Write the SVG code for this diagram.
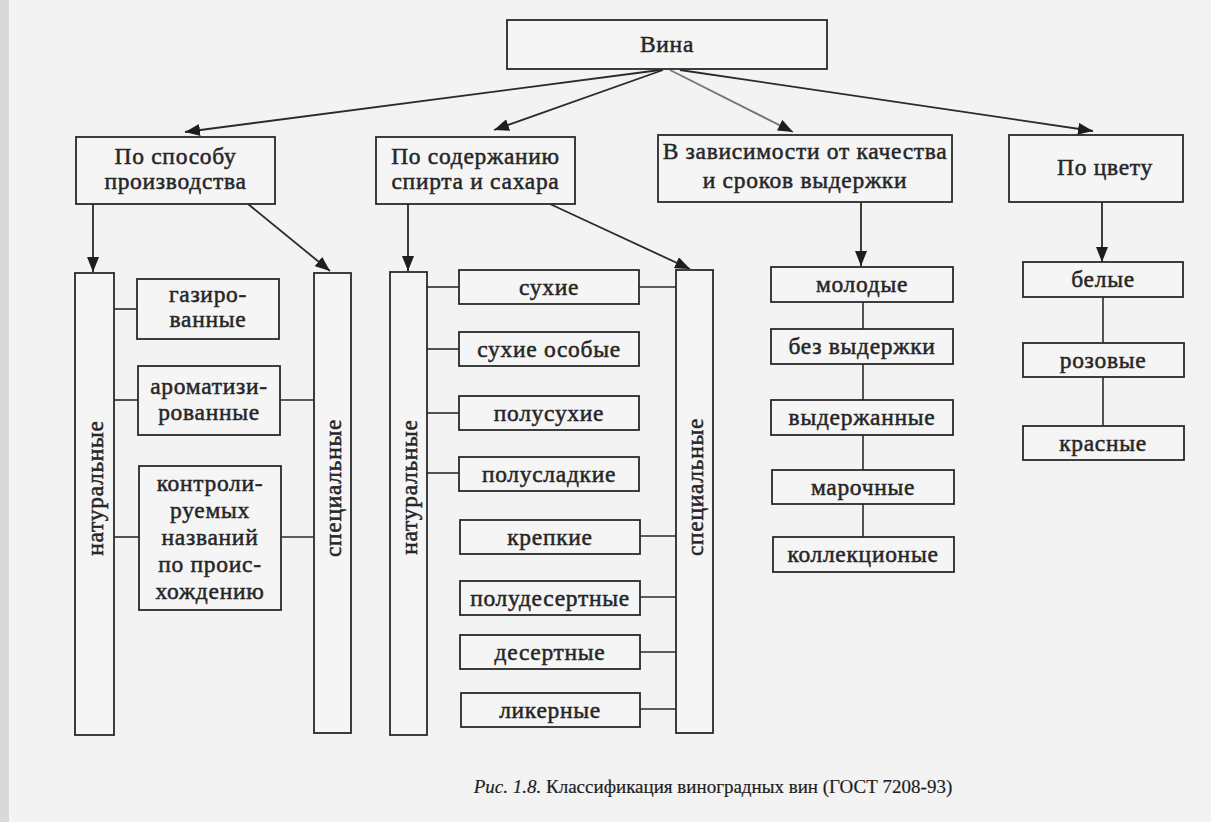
<svg xmlns="http://www.w3.org/2000/svg" width="1211" height="822" viewBox="0 0 1211 822">
<style>
.bg{fill:#f3f3f3}
.box{fill:#f5f5f5;stroke:#2a2a2a;stroke-width:1.8}
.ln{fill:none;stroke:#2a2a2a;stroke-width:1.6}
.arr{fill:none;stroke:#2a2a2a;stroke-width:1.8;marker-end:url(#ah)}
.arrg{fill:none;stroke:#777;stroke-width:1.8;marker-end:url(#ah)}
.t{font-family:'Liberation Serif','Times New Roman',serif;font-size:23.5px;letter-spacing:0.7px;fill:#262626;stroke:#262626;stroke-width:0.5;text-anchor:middle}
.cap{font-size:19px;letter-spacing:0;fill:#1e1e1e;stroke:#1e1e1e;stroke-width:0.2}
.it{font-style:italic}
</style>
<defs>
<marker id="ah" markerUnits="userSpaceOnUse" markerWidth="16" markerHeight="12" refX="15" refY="6" orient="auto">
<path d="M0,0 L15,6 L0,12 z" fill="#1e1e1e"/>
</marker>
</defs>
<rect class="bg" x="0" y="0" width="1211" height="822"/>
<rect x="0" y="0" width="9" height="822" fill="#d9d9d9"/>

<g id="connectors">
<line class="arr" x1="660" y1="70" x2="185" y2="132"/>
<line class="arr" x1="663" y1="70" x2="494" y2="130"/>
<line class="arrg" x1="670" y1="70" x2="793" y2="132"/>
<line class="arr" x1="680" y1="70" x2="1093" y2="131"/>
<line class="arr" x1="93" y1="204" x2="93" y2="272"/>
<line class="arr" x1="248" y1="204" x2="330" y2="271"/>
<line class="arr" x1="408" y1="204" x2="408" y2="271"/>
<line class="arr" x1="550" y1="204" x2="690" y2="269"/>
<line class="arr" x1="861" y1="202" x2="861" y2="266"/>
<line class="arr" x1="1102" y1="202" x2="1102" y2="262"/>
<line class="ln" x1="114" y1="309" x2="137" y2="309"/>
<line class="ln" x1="114" y1="400" x2="138" y2="400"/>
<line class="ln" x1="280" y1="400" x2="314" y2="400"/>
<line class="ln" x1="114" y1="537" x2="139" y2="537"/>
<line class="ln" x1="281" y1="537" x2="314" y2="537"/>
<line class="ln" x1="427" y1="287" x2="459" y2="287"/>
<line class="ln" x1="639" y1="287" x2="676" y2="287"/>
<line class="ln" x1="427" y1="349" x2="459" y2="349"/>
<line class="ln" x1="427" y1="413" x2="459" y2="413"/>
<line class="ln" x1="427" y1="473" x2="459" y2="473"/>
<line class="ln" x1="639" y1="536" x2="676" y2="536"/>
<line class="ln" x1="639" y1="597" x2="676" y2="597"/>
<line class="ln" x1="639" y1="652" x2="676" y2="652"/>
<line class="ln" x1="639" y1="709" x2="676" y2="709"/>
<line class="ln" x1="863" y1="302" x2="863" y2="537"/>
<line class="ln" x1="1103" y1="297" x2="1103" y2="426"/>
</g>

<g class="t">
<g id="vina"><rect class="box" x="507" y="20" width="320" height="49"/><text x="667" y="52">Вина</text></g>

<g id="po-sposobu"><rect class="box" x="76" y="137" width="199" height="67"/><text x="175.5" y="164">По способу</text><text x="175.5" y="189">производства</text></g>
<g id="po-soderzhaniyu"><rect class="box" x="376" y="137" width="199" height="67"/><text x="475.5" y="164">По содержанию</text><text x="475.5" y="189">спирта и сахара</text></g>
<g id="v-zavisimosti"><rect class="box" x="658" y="135" width="294" height="67"/><text x="805" y="159">В зависимости от качества</text><text x="805" y="188">и сроков выдержки</text></g>
<g id="po-cvetu"><rect class="box" x="1009" y="135" width="174" height="67"/><text x="1105" y="175">По цвету</text></g>

<g id="nat1"><rect class="box" x="75" y="273" width="39" height="462"/><text transform="translate(94.5,488) rotate(-90)" x="0" y="8">натуральные</text></g>
<g id="spec1"><rect class="box" x="314" y="273" width="37" height="460"/><text transform="translate(332.5,488) rotate(-90)" x="0" y="8">специальные</text></g>
<g id="gaz"><rect class="box" x="137" y="279" width="142" height="60"/><text x="208" y="302">газиро-</text><text x="208" y="327">ванные</text></g>
<g id="arom"><rect class="box" x="138" y="366" width="142" height="69"/><text x="209" y="394">ароматизи-</text><text x="209" y="420">рованные</text></g>
<g id="kontr"><rect class="box" x="139" y="466" width="142" height="144"/><text x="210" y="491">контроли-</text><text x="210" y="518">руемых</text><text x="210" y="545">названий</text><text x="210" y="572">по проис-</text><text x="210" y="599">хождению</text></g>

<g id="nat2"><rect class="box" x="390" y="272" width="37" height="463"/><text transform="translate(408.5,487) rotate(-90)" x="0" y="8">натуральные</text></g>
<g id="spec2"><rect class="box" x="676" y="270" width="37" height="463"/><text transform="translate(694.5,487) rotate(-90)" x="0" y="8">специальные</text></g>
<g id="suhie"><rect class="box" x="459" y="270" width="180" height="34"/><text x="549" y="295">сухие</text></g>
<g id="suhie-osobye"><rect class="box" x="459" y="332" width="180" height="34"/><text x="549" y="357">сухие особые</text></g>
<g id="polusuhie"><rect class="box" x="459" y="396" width="180" height="34"/><text x="549" y="421">полусухие</text></g>
<g id="polusladkie"><rect class="box" x="459" y="457" width="180" height="34"/><text x="549" y="482">полусладкие</text></g>
<g id="krepkie"><rect class="box" x="460" y="520" width="180" height="34"/><text x="550" y="545">крепкие</text></g>
<g id="poludesertnye"><rect class="box" x="460" y="581" width="180" height="34"/><text x="550" y="606">полудесертные</text></g>
<g id="desertnye"><rect class="box" x="460" y="635" width="180" height="34"/><text x="550" y="660">десертные</text></g>
<g id="likernye"><rect class="box" x="461" y="693" width="179" height="34"/><text x="550" y="718">ликерные</text></g>

<g id="molodye"><rect class="box" x="771" y="267" width="182" height="35"/><text x="862" y="292">молодые</text></g>
<g id="bez-vyderzhki"><rect class="box" x="771" y="329" width="182" height="35"/><text x="862" y="354">без выдержки</text></g>
<g id="vyderzhannye"><rect class="box" x="771" y="400" width="182" height="35"/><text x="862" y="425">выдержанные</text></g>
<g id="marochnye"><rect class="box" x="772" y="470" width="182" height="34"/><text x="863" y="495">марочные</text></g>
<g id="kollekcionye"><rect class="box" x="773" y="537" width="181" height="35"/><text x="863" y="562">коллекционые</text></g>

<g id="belye"><rect class="box" x="1023" y="262" width="160" height="35"/><text x="1103" y="287">белые</text></g>
<g id="rozovye"><rect class="box" x="1023" y="343" width="161" height="34"/><text x="1103" y="368">розовые</text></g>
<g id="krasnye"><rect class="box" x="1023" y="426" width="161" height="34"/><text x="1103" y="451">красные</text></g>

<text class="cap" x="713" y="793"><tspan class="it">Рис. 1.8.</tspan> Классификация виноградных вин (ГОСТ 7208-93)</text>
</g>
</svg>
